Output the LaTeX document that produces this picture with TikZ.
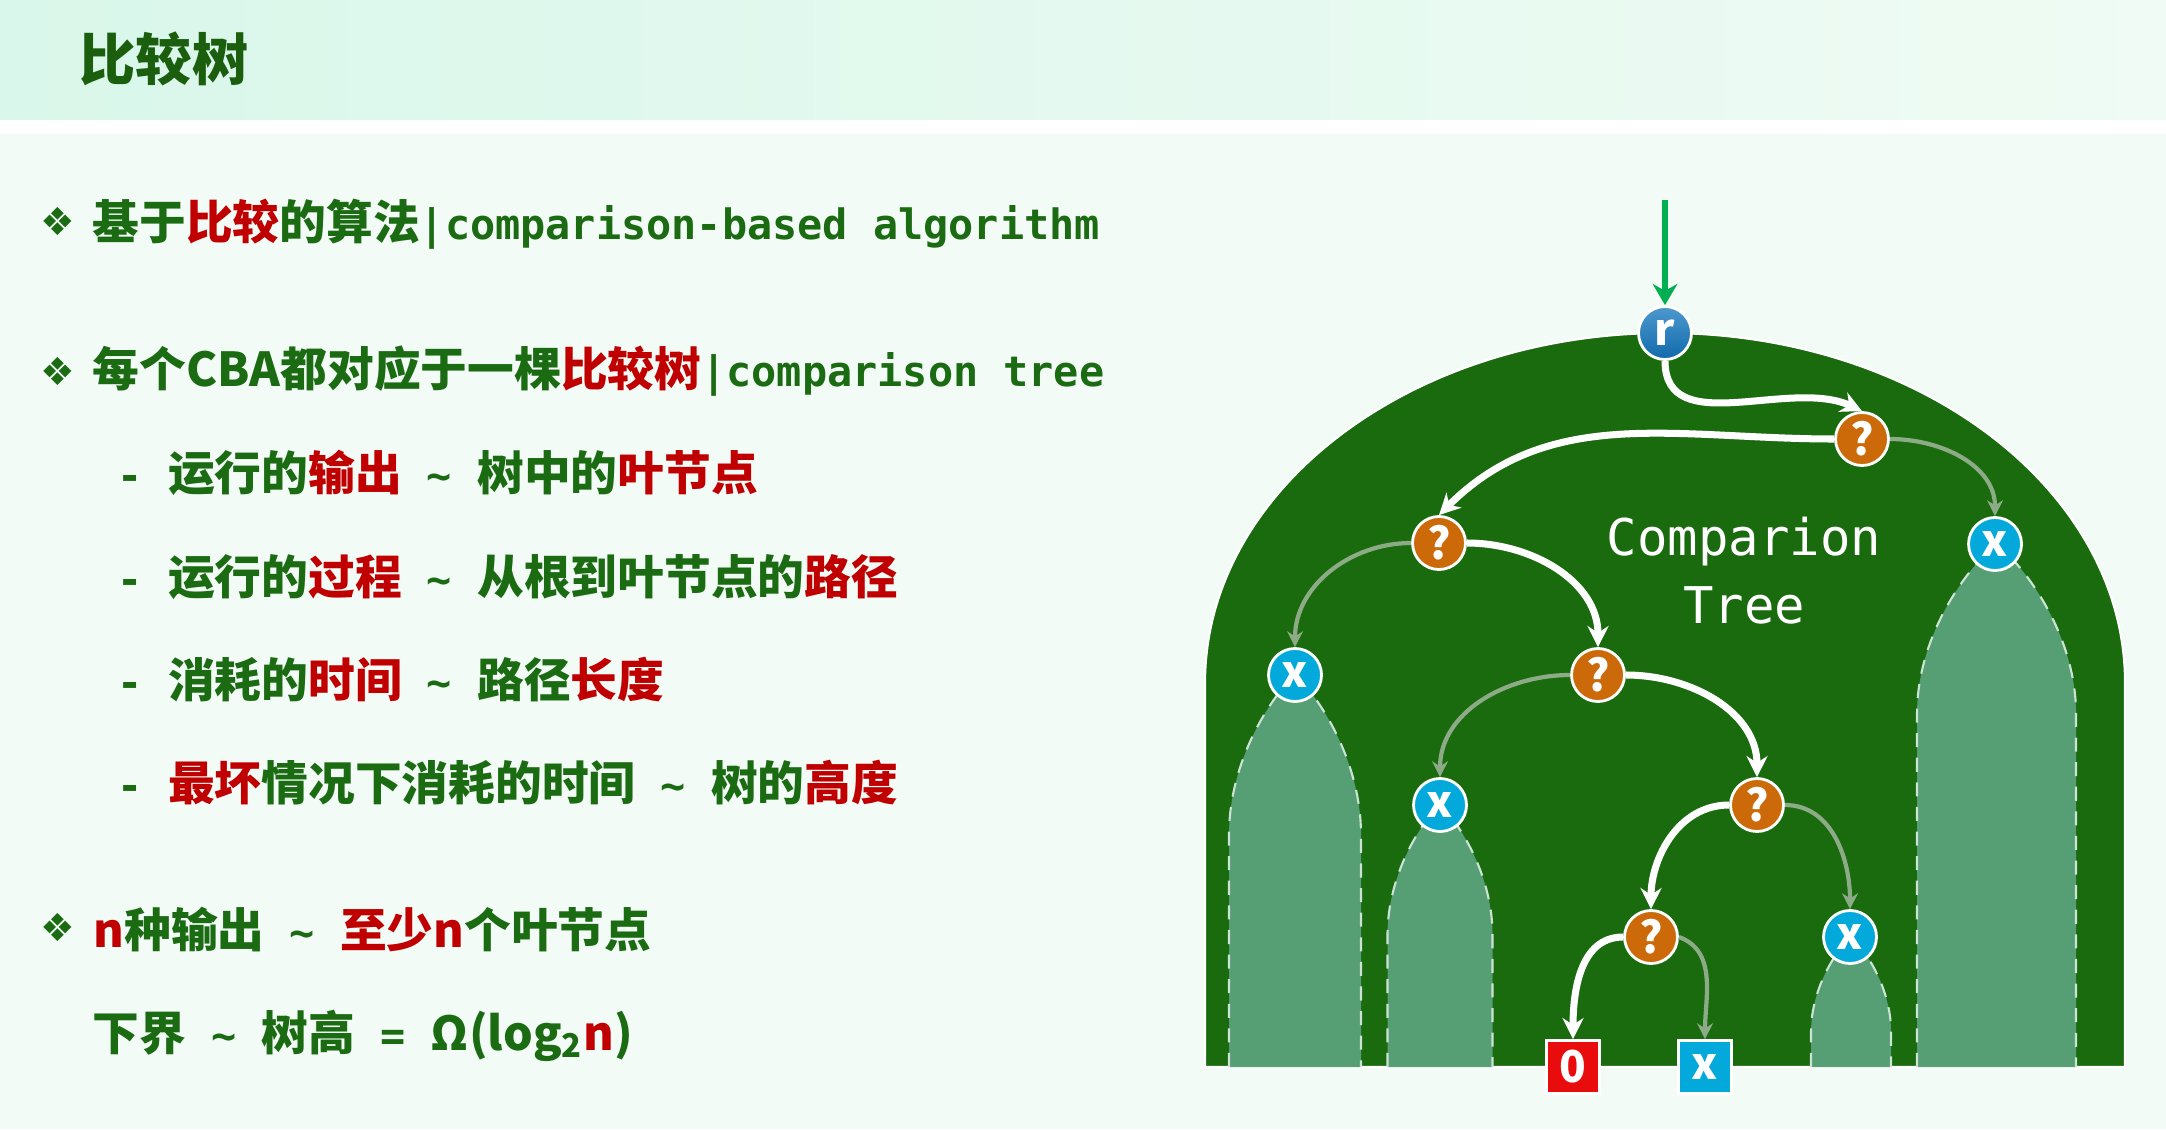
\documentclass[tikz,border=0pt]{standalone}
\usepackage{fontspec}
\setmainfont{Noto Sans CJK SC}
\newfontfamily\codefont{DejaVu Sans Mono}
\newfontfamily\symbfont{DejaVu Sans}
\usepackage{xcolor}
\usetikzlibrary{arrows.meta}

\definecolor{pagebg}{HTML}{F2FBF6}
\definecolor{titlebg}{HTML}{D9F7EA}
\definecolor{titlebgend}{HTML}{EFFBF4}
\definecolor{titlegreen}{HTML}{1A5E0E}
\definecolor{txtgreen}{HTML}{1B6B12}
\definecolor{txtred}{HTML}{C00000}
\definecolor{treegreen}{HTML}{196B0E}
\definecolor{hillgreen}{HTML}{569E73}
\definecolor{qorange}{HTML}{CC6A0A}
\definecolor{xcyan}{HTML}{03A9DB}
\definecolor{rblue}{HTML}{1276BE}
\definecolor{pathgray}{HTML}{8EAB88}
\definecolor{entrygreen}{HTML}{00B050}
\definecolor{outred}{HTML}{E80C0C}

\newcommand{\hl}[1]{\textcolor{txtred}{#1}}
\newcommand{\cf}[1]{{\codefont\bfseries\fontsize{11.9}{14}\selectfont #1}}
\newcommand{\tl}{\cf{\ \textasciitilde\ }}

\begin{document}
\begin{tikzpicture}[
  line/.style={anchor=base west, inner sep=0pt, text=txtgreen,
               font=\fontsize{13.3}{16}\selectfont\bfseries},
  bullet/.style={inner sep=0pt, text=txtgreen, font=\symbfont\fontsize{11}{11}\selectfont},
  vertex/.style={circle, draw=white, line width=0.8pt, minimum size=0.53cm,
                 inner sep=0pt, text=white, font=\fontsize{12.5}{12.5}\selectfont\bfseries},
  qnode/.style={vertex, fill=qorange},
  xnode/.style={vertex, fill=xcyan},
  leaf/.style={rectangle, draw=white, line width=0.8pt, minimum size=0.53cm,
               inner sep=0pt, text=white, font=\fontsize{12.5}{12.5}\selectfont\bfseries},
  hot/.style={-{Stealth[length=6pt,width=6pt]}, line width=2pt, white},
  cold/.style={-{Stealth[length=4.5pt,width=4.5pt]}, line width=1.2pt, pathgray},
  hill/.style={fill=hillgreen, draw=white!70!hillgreen, line width=0.6pt,
               dash pattern=on 4pt off 3pt}
]

\useasboundingbox (0,0) rectangle (21.66,-11.29);
\fill[pagebg] (0,0) rectangle (21.66,-11.29);
\shade[left color=titlebg, right color=titlebgend] (0,0) rectangle (21.66,-1.20);
\fill[white] (0,-1.20) rectangle (21.66,-1.34);

\node[anchor=base west, inner sep=0pt, text=titlegreen,
      font=\fontsize{16}{18}\selectfont\bfseries] (title) at (0.79,-0.81) {比较树};

\node[bullet] (b1) at (0.575,-2.21) {❖};
\node[line] (t1) at (0.92,-2.40) {基于\hl{比较}的算法\cf{|comparison-based algorithm}};
\node[bullet] (b2) at (0.575,-3.71) {❖};
\node[line] (t2) at (0.92,-3.86) {每个CBA都对应于一棵\hl{比较树}\cf{|comparison tree}};

\node[line] (d1) at (1.17,-4.90) {\cf{- }运行的\hl{输出}\tl 树中的\hl{叶节点}};
\node[line] (d2) at (1.17,-5.94) {\cf{- }运行的\hl{过程}\tl 从根到叶节点的\hl{路径}};
\node[line] (d3) at (1.17,-6.97) {\cf{- }消耗的\hl{时间}\tl 路径\hl{长度}};
\node[line] (d4) at (1.17,-8.00) {\cf{- }\hl{最坏}情况下消耗的时间\tl 树的\hl{高度}};

\node[bullet] (b3) at (0.58,-9.27) {❖};
\node[line] (t3) at (0.93,-9.47) {\hl{n}种输出\tl\hl{至少n}个叶节点};
\node[line] (t4) at (0.92,-10.50) {下界\tl 树高\cf{\ =\ }Ω(log\textsubscript{2}\hl{n})};

\fill[treegreen, draw=white, line width=0.6pt] (12.05,-10.67) -- (12.05,-6.83)
  arc[start angle=180, end angle=0, x radius=4.6, y radius=3.5] -- (21.25,-10.67) -- cycle;

\foreach \cx/\w/\yt/\h in {12.95/1.32/-6.75/1.6, 14.40/1.05/-8.05/1.3,
                           18.51/0.80/-9.37/0.95, 19.965/1.59/-5.44/1.7}
  \filldraw[hill] ({\cx-\w/2},-10.67) -- ({\cx-\w/2},{\yt-\h})
    .. controls ({\cx-\w/2},{\yt-\h/2}) and ({\cx-0.135*\w},{\yt-0.094*\h}) .. (\cx,\yt)
    .. controls ({\cx+0.135*\w},{\yt-0.094*\h}) and ({\cx+\w/2},{\yt-\h/2}) .. ({\cx+\w/2},{\yt-\h})
    -- ({\cx+\w/2},-10.67);

\node[text=white, align=center, font=\codefont\fontsize{14.4}{19.3}\selectfont] (name)
  at (17.44,-5.71) {Comparion\\Tree};

\node[vertex, top color=rblue!75!white, bottom color=rblue!90!black] (r) at (16.65,-3.33) {r};
\node[qnode] (q1) at (18.62,-4.39) {?};
\node[xnode] (xr) at (19.95,-5.44) {x};
\node[qnode] (q2) at (14.39,-5.43) {?};
\node[xnode] (xl) at (12.95,-6.75) {x};
\node[qnode] (q3) at (15.98,-6.75) {?};
\node[xnode] (x2) at (14.40,-8.05) {x};
\node[qnode] (q4) at (17.57,-8.05) {?};
\node[qnode] (q5) at (16.51,-9.37) {?};
\node[xnode] (x3) at (18.50,-9.37) {x};
\node[leaf, fill=outred] (out) at (15.73,-10.67) {0};
\node[leaf, fill=xcyan] (fail) at (17.05,-10.67) {x};

\coordinate (entry) at (16.65,-2.00);
\draw[-{Stealth[length=6pt,width=7pt]}, line width=1.6pt, entrygreen] (entry) -- (r);

\draw[hot] (r.south) to[out=-90,in=155] (q1.north);
\draw[hot] (q1.west) to[out=180,in=45] (q2.north);
\draw[cold] (q1.east) to[out=0,in=90] (xr.north);
\draw[cold] (q2.west) to[out=180,in=90] (xl.north);
\draw[hot] (q2.east) to[out=0,in=90] (q3.north);
\draw[cold] (q3.west) to[out=180,in=90] (x2.north);
\draw[hot] (q3.east) to[out=0,in=90] (q4.north);
\draw[hot] (q4.west) to[out=180,in=90] (q5.north);
\draw[cold] (q4.east) to[out=0,in=90] (x3.north);
\draw[hot] (q5.west) to[out=180,in=90] (out.north);
\draw[cold] (q5.east) to[out=-20,in=90] (fail.north);

\end{tikzpicture}
\end{document}
